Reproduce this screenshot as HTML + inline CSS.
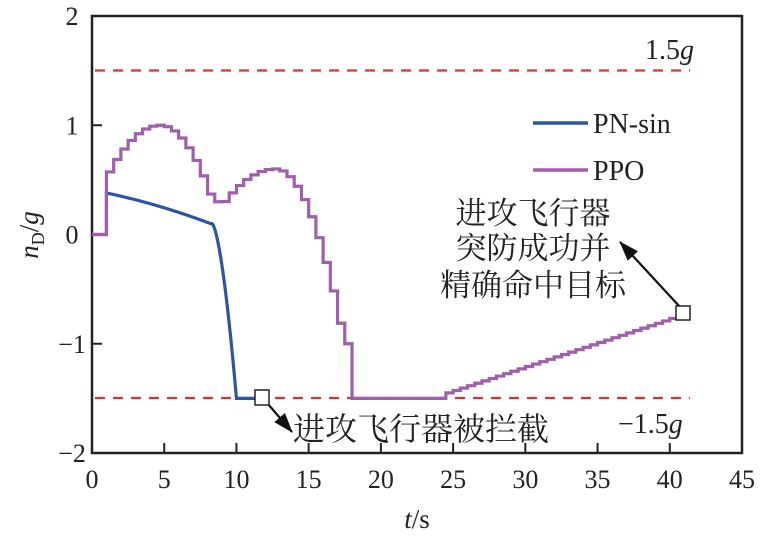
<!DOCTYPE html>
<html><head><meta charset="utf-8"><style>
html,body{margin:0;padding:0;background:#fff;width:763px;height:536px;overflow:hidden}
text{font-family:"Liberation Serif","Noto Serif CJK SC",serif;fill:#222}
</style></head><body>
<svg id="s" width="763" height="536" viewBox="0 0 763 536" xmlns="http://www.w3.org/2000/svg">
<defs><marker id="ah2" viewBox="0 0 20 14" markerWidth="22" markerHeight="14" refX="19" refY="7" orient="auto" markerUnits="userSpaceOnUse"><path d="M0,0 L20,7 L0,14 z" fill="#111"/></marker></defs>
<rect x="92" y="16" width="650" height="437" fill="none" stroke="#222" stroke-width="2.5"/>
<g stroke="#e03030" stroke-width="2.2" stroke-dasharray="10,8"><line x1="95" y1="70.5" x2="690" y2="70.5"/><line x1="95" y1="398" x2="690" y2="398"/></g>
<g id="ticks" stroke="#222" stroke-width="2"></g>
<g id="lbl" font-size="26" text-anchor="middle"></g>
<path id="pn" fill="none" stroke="#2c55a5" stroke-width="3.2"/>
<path id="ppo" fill="none" stroke="#a05fac" stroke-width="3.2"/>
<line x1="533" y1="123" x2="588" y2="123" stroke="#2c55a5" stroke-width="3.5"/>
<line x1="533" y1="170" x2="588" y2="170" stroke="#a05fac" stroke-width="3.5"/>
<text x="593" y="133" font-size="28">PN-sin</text>
<text x="593" y="180" font-size="28">PPO</text>
<text x="645" y="59" font-size="28">1.5<tspan font-style="italic">g</tspan></text>
<text x="618" y="433" font-size="28">−1.5<tspan font-style="italic">g</tspan></text>
<g font-size="31" text-anchor="middle"><text x="533" y="224">进攻飞行器</text><text x="533" y="259">突防成功并</text><text x="533" y="296">精确命中目标</text></g>
<text x="293" y="440" font-size="32">进攻飞行器被拦截</text>
<line x1="680" y1="307" x2="620" y2="242" stroke="#111" stroke-width="2.2" marker-end="url(#ah2)"/>
<line x1="268" y1="404" x2="292" y2="432" stroke="#111" stroke-width="2.2" marker-end="url(#ah2)"/>
<rect x="676" y="306" width="14" height="14" fill="#fff" stroke="#222" stroke-width="1.5"/>
<rect x="255" y="390" width="14" height="15" fill="#fff" stroke="#222" stroke-width="1.5"/>
<text x="417" y="528" font-size="27" text-anchor="middle"><tspan font-style="italic">t</tspan>/s</text>
<text transform="translate(38,235) rotate(-90)" font-size="27" text-anchor="middle"><tspan font-style="italic">n</tspan><tspan font-size="18" dy="6">D</tspan><tspan dy="-6">/</tspan><tspan font-style="italic">g</tspan></text>
</svg>
<script>
var X=t=>92+t*650/45, Y=v=>234.5-v*109.25;
var tk=document.getElementById('ticks'),lb=document.getElementById('lbl'),ns="http://www.w3.org/2000/svg";
function el(p,n,a,txt){var e=document.createElementNS(ns,n);for(var k in a)e.setAttribute(k,a[k]);if(txt)e.textContent=txt;p.appendChild(e);}
for(var i=0;i<=9;i++){var x=X(i*5);if(i>0&&i<9)el(tk,'line',{x1:x,y1:453,x2:x,y2:443});el(lb,'text',{x:x,y:488},String(i*5));}
for(var v=-2;v<=2;v++){var y=Y(v);if(v>-2&&v<2)el(tk,'line',{x1:92,y1:y,x2:102,y2:y});el(lb,'text',{x:72,y:y+9},v<0?'−'+(-v):String(v));}
var d='M'+X(0)+','+Y(0)+' L'+X(1)+','+Y(0);
for(var t=1;t<=8.25;t+=0.1){var u=(t-1)/7.2;var v=0.38-0.2*u-0.08*u*u;d+=' L'+X(t)+','+Y(v);}
for(var t=8.3;t<=10.001;t+=0.05){var v=0.1-1.6*Math.pow(Math.min(1,(t-8.3)/1.7),1.6);d+=' L'+X(t)+','+Y(v);}
d+=' L'+X(10)+','+Y(-1.5)+' L'+X(11.6)+','+Y(-1.5);
document.getElementById('pn').setAttribute('d',d);
function f(t){
 if(t<1)return 0;
 if(t<4.5)return 1.0-0.43*Math.pow((t-4.5)/3.5,2);
 if(t<8.2)return 1.0-0.7*Math.pow((t-4.5)/3.7,2);
 if(t<9)return 0.3;
 if(t<12.5)return 0.6-0.3*Math.pow((t-12.5)/3.5,2);
 if(t<17.3)return 0.6-1.6*Math.pow((t-12.5)/4.8,2);
 if(t<17.8)return -1.0;
 if(t<24.5)return -1.5;
 return -1.45+0.72*(t-24.5)/16.4;
}
var d2='M'+X(0)+','+Y(0),prev=0;
for(var t=0;t<40.9;t+=0.5){var v=f(t+0.01);d2+=' L'+X(t)+','+Y(prev)+' L'+X(t)+','+Y(v);prev=v;}
d2+=' L'+X(40.9)+','+Y(prev);
document.getElementById('ppo').setAttribute('d',d2);
</script>
</body></html>
